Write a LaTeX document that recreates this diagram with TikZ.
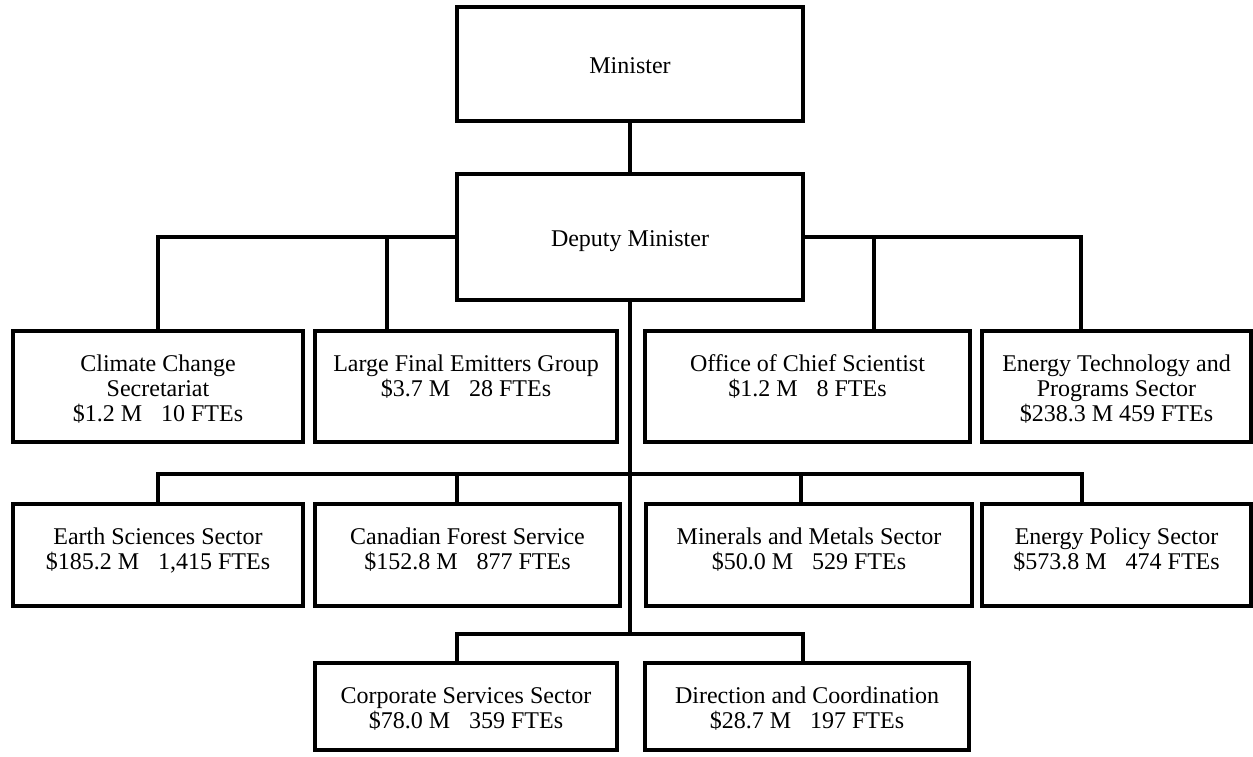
\documentclass[tikz,border=0pt]{standalone}
\usepackage{fontspec}
\setmainfont{Liberation Serif}
\newcommand{\fgap}{\hspace{19pt}}
\newcommand{\orgbox}[5]{\node[box, minimum width={(#4-#2)*1pt}, minimum height={(#5-#3)*1pt}] (#1) at ({(#2+#4)/2},{(#3+#5)/2}) {};}
\tikzset{
  box/.style={draw, rectangle, line width=3.2pt, fill=white, inner sep=0pt},
  conn/.style={line width=3.2pt},
  txt/.style={align=center, inner sep=0pt, font=\fontsize{24}{25}\selectfont}
}
\begin{document}
\begin{tikzpicture}[x=1pt,y=-1pt]
\fill[white] (0,0) rectangle (1253,756);
\useasboundingbox (0,0) rectangle (1253,756);
% boxes
\orgbox{min}{457}{7}{803}{121}
\orgbox{dep}{457}{174}{803}{300}
\orgbox{cc}{13}{331}{303}{442}
\orgbox{lfe}{315}{331}{617}{442}
\orgbox{ocs}{645}{331}{970}{442}
\orgbox{etp}{982}{331}{1251}{442}
\orgbox{ess}{13}{504}{303}{606}
\orgbox{cfs}{315}{504}{620}{606}
\orgbox{mms}{646}{504}{972}{606}
\orgbox{eps}{982}{504}{1251}{606}
\orgbox{css}{315}{663}{617}{750}
\orgbox{dc}{645}{663}{969}{750}
% texts
\node[txt, anchor=base] (min-t) at ([yshift=-68pt]min.north) {Minister};
\node[txt, anchor=base] (dep-t) at ([yshift=-74pt]dep.north) {Deputy Minister};
\node[txt, anchor=north] (cc-t) at ([yshift=-24.5pt]cc.north) {\strut Climate Change\\Secretariat\\\$1.2 M\fgap 10 FTEs};
\node[txt, anchor=north] (lfe-t) at ([yshift=-24.5pt]lfe.north) {\strut Large Final Emitters Group\\\$3.7 M\fgap 28 FTEs};
\node[txt, anchor=north] (ocs-t) at ([yshift=-24.5pt]ocs.north) {\strut Office of Chief Scientist\\\$1.2 M\fgap 8 FTEs};
\node[txt, anchor=north] (etp-t) at ([yshift=-24.5pt]etp.north) {\strut Energy Technology and\\Programs Sector\\\$238.3 M 459 FTEs};
\node[txt, anchor=north] (ess-t) at ([yshift=-24.5pt]ess.north) {\strut Earth Sciences Sector\\\$185.2 M\fgap 1,415 FTEs};
\node[txt, anchor=north] (cfs-t) at ([yshift=-24.5pt]cfs.north) {\strut Canadian Forest Service\\\$152.8 M\fgap 877 FTEs};
\node[txt, anchor=north] (mms-t) at ([yshift=-24.5pt]mms.north) {\strut Minerals and Metals Sector\\\$50.0 M\fgap 529 FTEs};
\node[txt, anchor=north] (eps-t) at ([yshift=-24.5pt]eps.north) {\strut Energy Policy Sector\\\$573.8 M\fgap 474 FTEs};
\node[txt, anchor=north] (css-t) at ([yshift=-24.5pt]css.north) {\strut Corporate Services Sector\\\$78.0 M\fgap 359 FTEs};
\node[txt, anchor=north] (dc-t) at ([yshift=-24.5pt]dc.north) {\strut Direction and Coordination\\\$28.7 M\fgap 197 FTEs};
% connector end points
\coordinate (lfe-in) at (387,331);
\coordinate (ocs-in) at (874,331);
\coordinate (etp-in) at (1081,331);
\coordinate (bus2) at (158,474);
\coordinate (cfs-in) at (457,504);
\coordinate (mms-in) at (801,504);
\coordinate (eps-in) at (1082,504);
\coordinate (bus3) at (630,634);
\coordinate (css-in) at (457,663);
\coordinate (dc-in) at (803,663);
% connectors
\draw[conn] (min.south) -- (dep.north);
\draw[conn] (dep.west) -| (cc.north);
\draw[conn] (lfe-in |- dep.west) -- (lfe-in);
\draw[conn] (dep.east) -| (etp-in);
\draw[conn] (ocs-in |- dep.east) -- (ocs-in);
\draw[conn] (dep.south) -- (bus3);
\draw[conn] (ess.north) -- (bus2) -- (bus2 -| eps-in) -- (eps-in);
\draw[conn] (cfs-in |- bus2) -- (cfs-in);
\draw[conn] (mms-in |- bus2) -- (mms-in);
\draw[conn] (css-in) -- (css-in |- bus3) -- (dc-in |- bus3) -- (dc-in);
\end{tikzpicture}
\end{document}
